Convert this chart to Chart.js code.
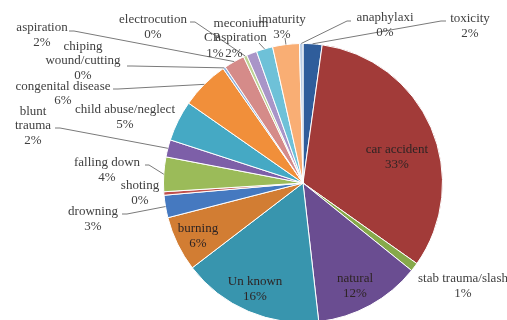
<!DOCTYPE html>
<html>
<head>
<meta charset="utf-8">
<script src="https://cdn.jsdelivr.net/npm/chart.js@4.4.0/dist/chart.umd.min.js"></script>
<style>
  html, body { margin: 0; padding: 0; background: #fff; overflow: hidden; }
  #wrap { width: 507px; height: 320px; overflow: hidden; position: relative; }
  canvas { position: absolute; left: 0; top: 0; }
</style>
</head>
<body>
<div id="wrap"><canvas id="canvas" width="507" height="366"></canvas></div>
<script>
// causes, in the order the slices run clockwise from 12 o'clock
const categories = [
  'toxicity', 'car accident', 'stab trauma/slash', 'natural', 'Un known',
  'burning', 'drowning', 'shoting', 'falling down', 'blunt\ntrauma',
  'child abuse/neglect', 'congenital disease', 'chiping\nwound/cutting',
  'aspiration', 'electrocution', 'meconium\naspiration', 'CP', 'imaturity',
  'anaphylaxi'
];

// share of cases (%)
const shares = [
  2.2, 32.6, 1.0, 12.4, 16.4,
  6.4, 2.6, 0.4, 4.0, 2.0,
  4.7, 5.6, 0.3,
  2.4, 0.4, 1.2, 1.9, 3.1,
  0.4
];

const sliceColors = [
  '#2f5d9b', '#a23b39', '#86a94a', '#6a4d91', '#3895ae',
  '#d27d33', '#4579c0', '#c0504d', '#9bbb59', '#7d5fa8',
  '#45a9c4', '#f18f3a', '#8eb1dd', '#d58b89', '#bdd395',
  '#a995c8', '#6ec1d8', '#f9ae74', '#b8cce6'
];

// where each data label sits (x,y = centre of first text line),
// optional px/py for the percent line, optional lx/ly leader start
// and stub = short horizontal piece of the leader line
const labelLayout = [
  { x: 470, y: 19, lx: 446, ly: 21, stub: -5 },
  { x: 397, y: 150 },
  { x: 463, y: 279 },
  { x: 355, y: 279 },
  { x: 255, y: 282 },
  { x: 198, y: 229 },
  { x: 93, y: 212, lx: 122, ly: 214, stub: 5 },
  { x: 140, y: 186 },
  { x: 107, y: 163, lx: 145, ly: 165, stub: 4 },
  { x: 33, y: 112, lx: 55, ly: 128, stub: 5 },
  { x: 125, y: 110 },
  { x: 63, y: 87, py: 101, lx: 113, ly: 89, stub: 5 },
  { x: 83, y: 47, lx: 127, ly: 66, stub: 5 },
  { x: 42, y: 28, lx: 69, ly: 31, stub: 5 },
  { x: 153, y: 20, lx: 190, ly: 22, stub: 5 },
  { x: 241, y: 24, px: 215, py: 54 },
  { x: 212, y: 38, px: 234, py: 54, lx: 259, ly: 43 },
  { x: 282, y: 20, lx: 285, ly: 38 },
  { x: 385, y: 18, lx: 351, ly: 21, stub: -4 }
];

const lineGap = 14;

const labelPlugin = {
  id: 'pieLabels',
  afterDatasetsDraw(chart) {
    const ctx = chart.ctx;
    const meta = chart.getDatasetMeta(0);
    const values = chart.data.datasets[0].data;
    const total = values.reduce((a, b) => a + b, 0);
    ctx.save();
    ctx.font = '13px "Liberation Serif", "Times New Roman", serif';
    ctx.textAlign = 'center';
    ctx.textBaseline = 'middle';
    meta.data.forEach((arc, i) => {
      const pos = labelLayout[i];
      const p = arc.getProps(['x', 'y', 'startAngle', 'endAngle', 'outerRadius'], true);
      if (pos.lx !== undefined) {
        const mid = (p.startAngle + p.endAngle) / 2;
        const ex = p.x + Math.cos(mid) * p.outerRadius;
        const ey = p.y + Math.sin(mid) * p.outerRadius;
        ctx.strokeStyle = '#7a7a7a';
        ctx.lineWidth = 1;
        ctx.beginPath();
        ctx.moveTo(pos.lx, pos.ly);
        if (pos.stub) ctx.lineTo(pos.lx + pos.stub, pos.ly);
        ctx.lineTo(ex, ey);
        ctx.stroke();
      }
      const lines = chart.data.labels[i].split('\n');
      const pct = Math.round(values[i] / total * 100) + '%';
      ctx.fillStyle = i === 1 || (i >= 3 && i <= 5) ? '#2e2424' : '#404040';
      lines.forEach((t, k) => ctx.fillText(t, pos.x, pos.y + k * lineGap));
      const px = pos.px !== undefined ? pos.px : pos.x;
      const py = pos.py !== undefined ? pos.py : pos.y + lines.length * lineGap + 1;
      ctx.fillText(pct, px, py);
    });
    ctx.restore();
  }
};

new Chart(document.getElementById('canvas'), {
  type: 'pie',
  data: {
    labels: categories,
    datasets: [{
      data: shares,
      backgroundColor: sliceColors,
      borderColor: '#ffffff',
      borderWidth: 1
    }]
  },
  options: {
    responsive: false,
    animation: false,
    layout: { padding: { left: 163, right: 64, top: 43, bottom: 43 } },
    plugins: {
      legend: { display: false },
      tooltip: { enabled: false }
    }
  },
  plugins: [labelPlugin]
});
</script>
</body>
</html>
